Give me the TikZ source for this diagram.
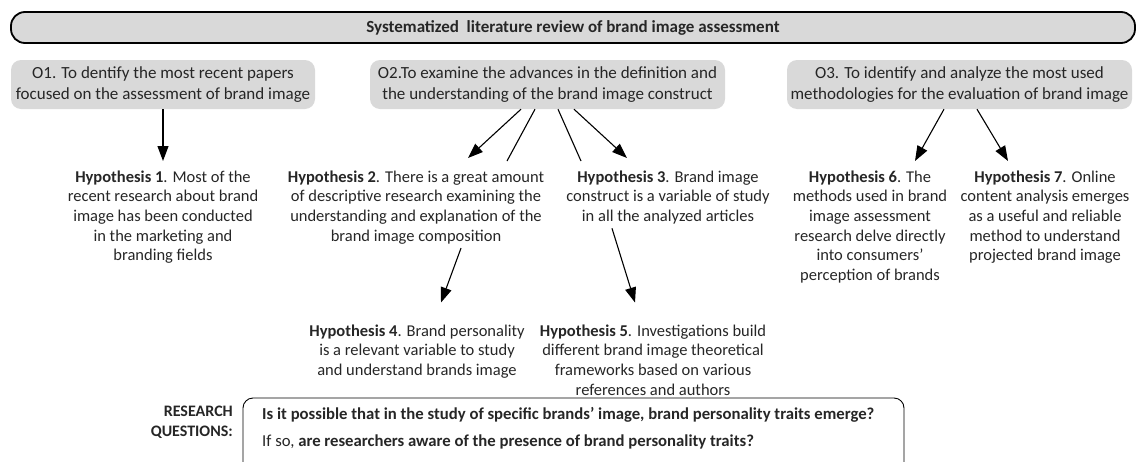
\documentclass[tikz,border=0pt]{standalone}
\usepackage{fontspec}
\setmainfont{Carlito}
\usepackage{xcolor}
\usepackage{tikz}
\usetikzlibrary{positioning}
\usetikzlibrary{arrows.meta}

\definecolor{boxgray}{RGB}{217,217,217}
\definecolor{inkgray}{RGB}{38,38,38}

\begin{document}
\begin{tikzpicture}[x=1pt, y=-1pt,
	every node/.style={inner sep=0pt, text=inkgray, font=\fontsize{16.5}{19.6}\selectfont},
	objective/.style={fill=boxgray, rounded corners=10pt, minimum height=49pt, align=center,
		font=\fontsize{17}{21}\selectfont},
	hypothesis/.style={anchor=north, align=center},
	arr/.style={-{Triangle[length=15pt,width=11pt]}, line width=1.1pt},
	branch/.style={line width=1.1pt}]

	% page frame
	\useasboundingbox (0,0) rectangle (1138,461);
	\clip (0,0) rectangle (1138,461);

	% heading bar
	\node[draw=black, line width=1.8pt, fill=boxgray, rounded corners=14pt,
		minimum width=1124pt, minimum height=31pt,
		font=\bfseries\fontsize{17}{20}\selectfont] (title) at (573,27.5)
		{Systematized\ \ literature review of brand image assessment};

	% the three objectives
	\node[objective, minimum width=304pt] (obj1) at (163,84.5)
		{O1. To dentify the most recent papers\\focused on the assessment of brand image};
	\node[objective, minimum width=355pt] (obj2) at (547.5,84.5)
		{O2.To examine the advances in the definition and\\the understanding of the brand image construct};
	\node[objective, minimum width=345pt] (obj3) at (959.5,84.5)
		{O3. To identify and analyze the most used\\methodologies for the evaluation of brand image};

	% hypotheses, first row
	\node[hypothesis] (hyp1) at (163,170.5)
		{\textbf{Hypothesis 1}. Most of the\\recent research about brand\\image has been conducted\\in the marketing and\\branding fields};
	\node[hypothesis] (hyp2) at (416,170.5)
		{\textbf{Hypothesis 2}. There is a great amount\\of descriptive research examining the\\understanding and explanation of the\\brand image composition};
	\node[hypothesis] (hyp3) at (668,170.5)
		{\textbf{Hypothesis 3}. Brand image\\construct is a variable of study\\in all the analyzed articles};
	\node[hypothesis] (hyp6) at (870,170.5)
		{\textbf{Hypothesis 6}. The\\methods used in brand\\image assessment\\research delve directly\\into consumers'\\perception of brands};
	\node[hypothesis] (hyp7) at (1045,170.5)
		{\textbf{Hypothesis 7}. Online\\content analysis emerges\\as a useful and reliable\\method to understand\\projected brand image};

	% hypotheses, second row
	\node[hypothesis] (hyp4) at (417,324.5)
		{\textbf{Hypothesis 4}. Brand personality\\is a relevant variable to study\\and understand brands image};
	\node[hypothesis] (hyp5) at (653,324.5)
		{\textbf{Hypothesis 5}. Investigations build\\different brand image theoretical\\frameworks based on various\\references and authors};

	% loose ends of the two plain strokes
	\coordinate (tail4) at (507,161);
	\coordinate (tail5) at (581,161);

	% connectors
	\draw[arr] (obj1.south) -- ([yshift=9.5pt]hyp1.north);
	\draw[arr] ([xshift=-26.5pt]obj2.south) -- ([xshift=52pt,yshift=12.5pt]hyp2.north);
	\draw[branch] ([xshift=-12.5pt]obj2.south) -- (tail4);
	\draw[branch] ([xshift=10.5pt]obj2.south) -- (tail5);
	\draw[arr] ([xshift=26.5pt]obj2.south) -- ([xshift=-41pt,yshift=12.5pt]hyp3.north);
	\draw[arr] ([xshift=-15.5pt]obj3.south) -- ([xshift=45pt,yshift=9.5pt]hyp6.north);
	\draw[arr] ([xshift=17.5pt]obj3.south) -- ([xshift=-37pt,yshift=9.5pt]hyp7.north);
	\draw[arr] ([xshift=45pt,yshift=-4pt]hyp2.south) -- ([xshift=24pt,yshift=22pt]hyp4.north);
	\draw[arr] ([xshift=-56pt,yshift=-4pt]hyp3.south) -- ([xshift=-18pt,yshift=22pt]hyp5.north);

	% research questions
	\node[anchor=north east, align=right, font=\bfseries\fontsize{16}{20}\selectfont] (rqlabel) at (233,406)
		{RESEARCH\\QUESTIONS:};
	\node[anchor=north west, align=left, font=\fontsize{16.7}{20}\selectfont] (rq) at (262,407)
		{\textbf{Is it possible that in the study of specific brands' image, brand personality traits emerge?}\\[7pt]
		If so, \textbf{are researchers aware of the presence of brand personality traits?}};
	\draw[line width=0.9pt, rounded corners=10pt] (243,475) |- (904,398) -- (904,475);

\end{tikzpicture}
\end{document}
